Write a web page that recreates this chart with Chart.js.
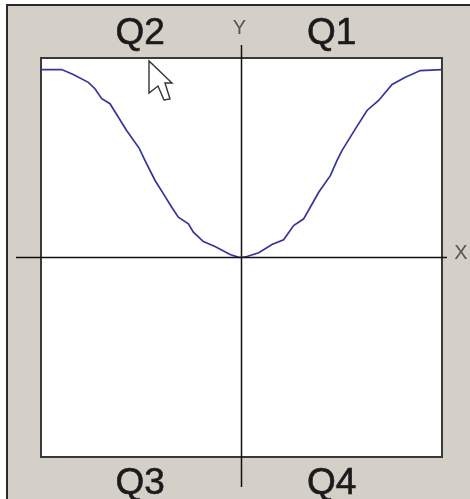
<!DOCTYPE html>
<html>
<head>
<meta charset="utf-8">
<script src="https://cdn.jsdelivr.net/npm/chart.js@4"></script>
<style>
html, body { margin: 0; padding: 0; background: #fff; overflow: hidden; }
#frame { position: absolute; left: 6px; top: 4px; width: 470px; height: 500px; background: #d4d0c8; border: 2px solid #2a2a2a; }
#wrap { position: absolute; left: 0; top: 0; width: 470px; height: 499px; }
#cursor { position: absolute; left: 0; top: 0; pointer-events: none; }
</style>
</head>
<body>
<div id="frame"></div>
<div id="wrap"><canvas id="chart1" width="470" height="499"></canvas></div>
<svg id="cursor" width="470" height="499"><path d="M149 61 L149 93 L158 86 L164 100 L170 99 L165 83 L172 83 Z" fill="#fff" stroke="#333" stroke-width="1.4"/></svg>
<script>
var curveX = [-100, -89.7, -83.9, -76.4, -73.1, -69.7, -65.6, -61.4, -57.3, -51, -48.1, -43.1, -39, -34.8, -31.5, -26.5, -24, -19, -13.2, -5.7, -1.7, 0, 2.7, 8.6, 15.2, 21, 26, 31, 34.3, 38.5, 44.3, 47.6, 50.1, 56.8, 62.6, 68.4, 75.1, 81.7, 89.2, 100];
var curveY = [94.2, 94.2, 91.7, 87.8, 84.6, 79.6, 77.1, 70.3, 63.7, 54.7, 48.6, 38.6, 32, 25.2, 20.2, 16.9, 12.7, 8, 5.5, 1.5, 0.2, 0, 0.5, 2.4, 6.5, 8.9, 16, 19.4, 25.2, 32.7, 41, 48.6, 53.6, 64.5, 73.7, 78.7, 86.7, 90.4, 93.7, 94.2];
var quadrantTicks = [-50.5, 45];
var topLabels = ['Q2', 'Q1'];
var bottomLabels = ['Q3', 'Q4'];

var axisColor = '#111';
var boxColor = '#3a3a3a';

function fixedSize(prop, size) {
  return function (scale) { scale[prop] = size; };
}

function setTicks(scale) {
  scale.ticks = quadrantTicks.map(function (v) { return { value: v }; });
}

// white plot background, the crossing axes and their X / Y letters
var crossAxes = {
  id: 'crossAxes',
  beforeDraw: function (chart) {
    var c = chart.ctx, a = chart.chartArea;
    c.save();
    c.fillStyle = '#fff';
    c.fillRect(a.left, a.top, a.width, a.height);
    c.restore();
  },
  afterDatasetsDraw: function (chart) {
    var c = chart.ctx, x = chart.scales.x, y = chart.scales.y;
    var cx = x.getPixelForValue(0), cy = y.getPixelForValue(0);
    c.save();
    c.strokeStyle = axisColor;
    c.lineWidth = 1.5;
    c.beginPath();
    c.moveTo(x.left - 25, cy);
    c.lineTo(x.right + 5, cy);
    c.moveTo(cx, y.top - 13);
    c.lineTo(cx, y.bottom + 30);
    c.stroke();
    c.fillStyle = '#555';
    c.font = '20px "Liberation Sans"';
    c.textAlign = 'center';
    c.textBaseline = 'middle';
    c.fillText('Y', cx - 2, y.top - 30);
    c.fillText('X', x.right + 19, cy - 4);
    c.restore();
  }
};

var curveChart = new Chart(document.getElementById('chart1'), {
  type: 'line',
  data: {
    datasets: [{
      data: curveX.map(function (v, i) { return { x: v, y: curveY[i] }; }),
      borderColor: '#35359a',
      borderWidth: 1.7,
      pointRadius: 0,
      tension: 0,
      fill: false
    }]
  },
  options: {
    responsive: false,
    animation: false,
    parsing: false,
    layout: { padding: 0 },
    plugins: { legend: { display: false }, tooltip: { enabled: false }, title: { display: false } },
    scales: {
      x: {
        type: 'linear', position: 'bottom', min: -100, max: 100,
        grid: { display: false },
        border: { display: true, color: boxColor, width: 2 },
        afterBuildTicks: setTicks,
        afterFit: fixedSize('height', 42),
        ticks: {
          autoSkip: false, maxRotation: 0, padding: -3, color: '#1a1a1a',
          textStrokeColor: '#1a1a1a', textStrokeWidth: 0.6,
          font: { family: 'Liberation Sans', size: 37 },
          callback: function (v, i) { return bottomLabels[i]; }
        }
      },
      xTop: {
        type: 'linear', position: 'top', min: -100, max: 100,
        grid: { display: false },
        border: { display: true, color: boxColor, width: 2 },
        afterBuildTicks: setTicks,
        afterFit: fixedSize('height', 58),
        ticks: {
          autoSkip: false, maxRotation: 0, padding: -6, color: '#1a1a1a',
          textStrokeColor: '#1a1a1a', textStrokeWidth: 0.6,
          font: { family: 'Liberation Sans', size: 37 },
          callback: function (v, i) { return topLabels[i]; }
        }
      },
      y: {
        type: 'linear', position: 'left', min: -100, max: 100,
        grid: { display: false },
        border: { display: true, color: boxColor, width: 2 },
        afterFit: fixedSize('width', 41),
        ticks: { display: false }
      },
      yRight: {
        type: 'linear', position: 'right', min: -100, max: 100,
        grid: { display: false },
        border: { display: true, color: boxColor, width: 2 },
        afterFit: fixedSize('width', 28),
        ticks: { display: false }
      }
    }
  },
  plugins: [crossAxes]
});
</script>
</body>
</html>
